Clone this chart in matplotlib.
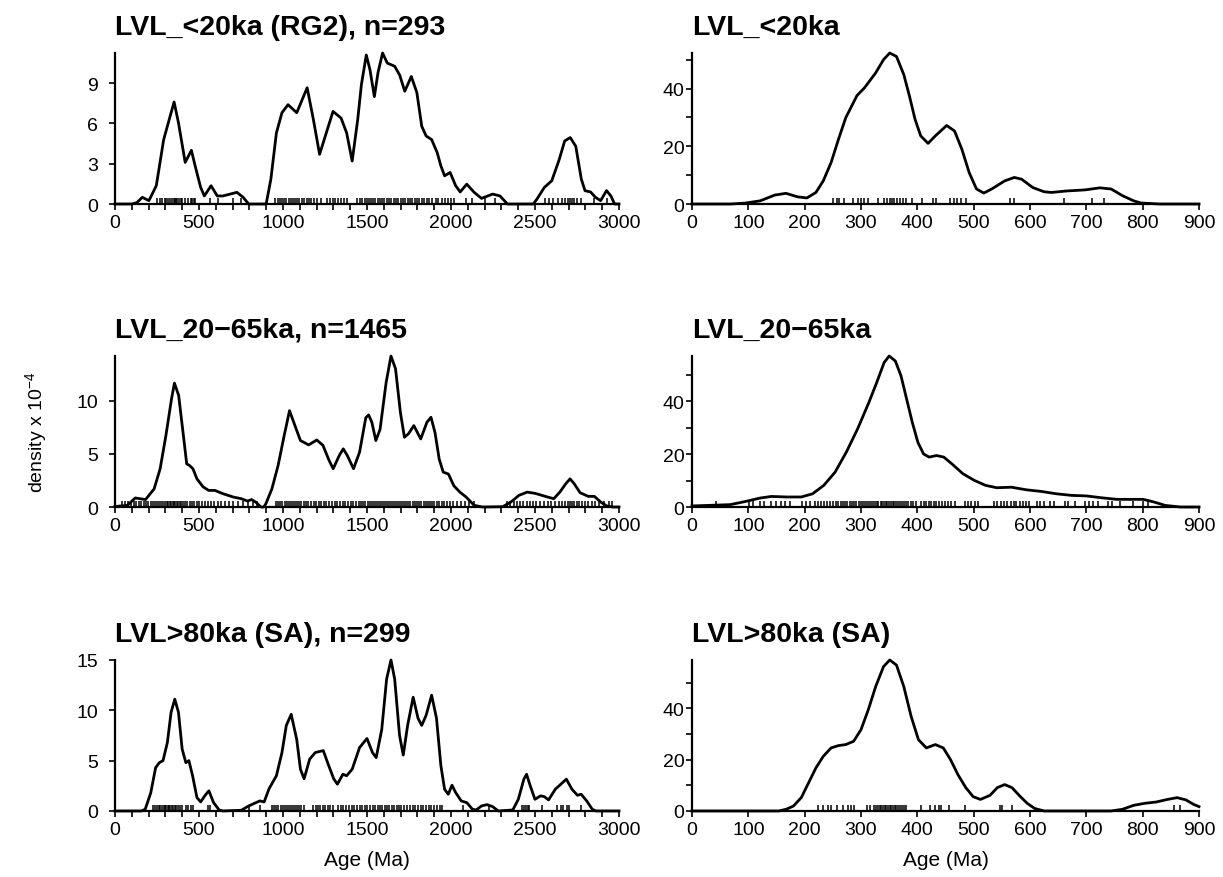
import matplotlib
matplotlib.use("Agg")
import matplotlib.pyplot as plt
from matplotlib.ticker import MultipleLocator

plt.rcParams['font.family'] = ['Liberation Sans', 'DejaVu Sans']
plt.rcParams['mathtext.fontset'] = 'custom'
plt.rcParams['mathtext.rm'] = 'Liberation Sans'

# ---- data (age in Ma, density x 1e-4) ----
# LVL_<20ka (RG2), full range
rg2_age = [0, 100, 130, 163, 202, 246, 290, 312, 352, 378, 418, 455, 477, 510, 532, 572, 609, 642, 726, 763,
           796, 900, 928, 961, 994, 1030, 1082, 1144, 1181, 1218, 1258, 1298, 1346, 1379, 1412, 1445, 1467, 1496, 1518, 1544,
           1566, 1593, 1621, 1665, 1695, 1725, 1764, 1797, 1826, 1852, 1885, 1918, 1940, 1962, 1995, 2028, 2055, 2094, 2138, 2182,
           2248, 2292, 2336, 2490, 2512, 2556, 2600, 2644, 2677, 2710, 2743, 2776, 2798, 2831, 2860, 2891, 2926, 2952, 2974, 3000]
rg2_dens = [0, 0, 0.1, 0.5, 0.25, 1.36, 4.8, 5.8, 7.6, 6.05, 3.1, 4.0, 2.85, 1.24, 0.6, 1.36, 0.6, 0.6, 0.87, 0.5,
            0, 0, 1.85, 5.3, 6.8, 7.4, 6.8, 8.66, 6.3, 3.7, 5.3, 6.9, 6.4, 5.3, 3.2, 6.3, 8.9, 11.1, 10.0, 8.0,
            9.8, 11.25, 10.5, 10.26, 9.6, 8.4, 9.5, 8.3, 5.8, 5.07, 4.8, 3.83, 2.84, 2.1, 2.35, 1.36, 0.9, 1.48, 0.87, 0.42,
            0.74, 0.6, 0, 0, 0.37, 1.24, 1.73, 3.3, 4.7, 4.95, 4.3, 1.85, 0.99, 0.9, 0.5, 0.25, 1.0, 0.6, 0, 0]
rg2_rug = [252, 268, 281, 295, 304, 318, 330, 341, 349, 356, 363, 372, 380, 391, 402, 418, 437, 452, 461, 470, 479,
           565, 616, 704, 752, 955, 968, 982, 996, 1008, 1021, 1035, 1047, 1060, 1072, 1085, 1098, 1112, 1128, 1141,
           1155, 1168, 1182, 1201, 1228, 1262, 1280, 1296, 1312, 1330, 1348, 1365, 1381, 1440, 1458, 1472, 1486, 1499,
           1511, 1524, 1537, 1550, 1563, 1577, 1590, 1603, 1617, 1630, 1644, 1658, 1672, 1686, 1700, 1714, 1728, 1742,
           1756, 1770, 1784, 1799, 1812, 1826, 1840, 1856, 1872, 1890, 1908, 1925, 1944, 1962, 1985, 2003, 2017, 2090,
           2127, 2204, 2260, 2560, 2582, 2610, 2640, 2661, 2680, 2695, 2708, 2720, 2735, 2750, 2772, 2853, 2930]

# LVL_<20ka, young part
y20_age = [0, 68, 94, 121, 147, 167, 187, 204, 220, 233, 247, 260, 273, 293, 306, 326, 340, 351, 363, 376, 386, 396,
           406, 419, 432, 452, 466, 479, 492, 505, 518, 532, 555, 572, 585, 605, 625, 638, 664, 698, 724, 744, 764, 784,
           797, 830, 900]
y20_dens = [0, 0, 0.3, 1.1, 3.1, 3.7, 2.5, 2.1, 4.0, 8.0, 14.4, 22.4, 29.9, 37.6, 40.2, 45.4, 50.0, 52.3, 51.1, 44.8,
            37.4, 29.3, 23.6, 21.0, 23.6, 27.2, 25.3, 19.0, 10.9, 5.2, 3.8, 5.2, 8.0, 9.2, 8.6, 5.7, 4.25, 4.0, 4.5, 4.9,
            5.6, 5.2, 2.9, 1.1, 0.35, 0, 0]
y20_rug = [251, 257, 261, 270, 286, 294, 300, 306, 312, 330, 340, 347, 351, 355, 359, 364, 369, 374, 380, 391, 408,
           427, 433, 458, 465, 470, 478, 486, 564, 571, 661, 710, 731]

# LVL_20-65ka, full range
mid_age = [0, 73, 121, 182, 233, 269, 303, 337, 354, 379, 403, 427, 444, 464, 488, 524, 558, 595, 643, 704,
           752, 789, 813, 837, 869, 886, 898, 934, 971, 1007, 1039, 1068, 1104, 1153, 1201, 1238, 1274, 1299, 1335, 1359,
           1383, 1420, 1456, 1493, 1510, 1529, 1553, 1578, 1614, 1643, 1670, 1699, 1723, 1748, 1779, 1820, 1857, 1881, 1905, 1930,
           1954, 1985, 2017, 2053, 2090, 2138, 2187, 2308, 2357, 2405, 2454, 2502, 2575, 2612, 2648, 2684, 2709, 2733, 2769, 2818,
           2854, 2891, 2927, 2963, 3000]
mid_dens = [0.05, 0.15, 0.85, 0.7, 1.7, 3.6, 6.7, 10.2, 11.65, 10.5, 7.3, 4.06, 3.9, 3.6, 2.65, 1.9, 1.56, 1.56, 1.25, 0.94,
            0.78, 0.56, 0.7, 0.47, 0, 0, 0.3, 1.7, 3.9, 6.7, 9.06, 7.8, 6.25, 5.84, 6.3, 5.8, 4.4, 3.6, 4.84, 5.47,
            4.84, 3.6, 5.16, 8.4, 8.66, 7.97, 6.25, 7.3, 11.7, 14.2, 13.0, 8.9, 6.56, 6.9, 7.66, 6.4, 7.97, 8.44, 7.0, 4.5,
            3.28, 3.1, 2.0, 1.4, 0.94, 0.16, 0, 0.03, 0.47, 1.1, 1.4, 1.28, 0.94, 0.78, 1.4, 2.2, 2.65, 2.2, 1.34, 1.0,
            1.0, 0.47, 0.1, 0, 0]
mid_rug = [42, 58, 75, 96, 112, 128, 141, 157, 170, 186, 199, 214, 226, 240, 252, 263, 275, 286, 297, 308, 318, 327,
           336, 344, 352, 360, 368, 377, 386, 396, 407, 419, 431, 444, 458, 471, 486, 502, 518, 535, 553, 571, 590, 611,
           633, 655, 680, 704, 731, 760, 791, 823, 848,
           958, 972, 985, 997, 1010, 1022, 1034, 1046, 1058, 1070, 1083, 1096, 1110, 1124, 1138, 1152, 1167, 1182, 1197,
           1212, 1227, 1243, 1259, 1275, 1291, 1307, 1323, 1339, 1355, 1371, 1387, 1403, 1419, 1435, 1450, 1464, 1478,
           1491, 1504, 1516, 1528, 1541, 1554, 1567, 1580, 1592, 1604, 1616, 1628, 1639, 1650, 1661, 1672, 1684, 1696,
           1708, 1720, 1733, 1746, 1759, 1772, 1785, 1798, 1811, 1824, 1837, 1850, 1863, 1876, 1889, 1902, 1916, 1930,
           1945, 1961, 1978, 1996, 2015, 2036, 2058, 2082, 2108, 2137,
           2332, 2351, 2373, 2392, 2413, 2431, 2452, 2470, 2489, 2508, 2530, 2552, 2575, 2598, 2620, 2641, 2660, 2678,
           2694, 2708, 2721, 2734, 2748, 2763, 2780, 2798, 2817, 2838, 2860, 2884, 2910, 2938, 2958]

# LVL_20-65ka, young part
m20_age = [0, 68, 95, 121, 141, 168, 194, 214, 234, 254, 274, 294, 314, 328, 341, 350, 361, 371, 381, 391,
           401, 411, 421, 434, 447, 461, 481, 501, 521, 541, 567, 594, 620, 647, 674, 700, 727, 754, 781, 801,
           820, 840, 867, 900]
m20_dens = [0.4, 0.9, 2.1, 3.4, 4.0, 3.8, 3.8, 5.0, 8.2, 13.2, 20.8, 29.6, 39.6, 47.2, 54.7, 57.2, 55.3, 49.7, 40.9, 32.1,
            24.5, 20.1, 18.9, 19.5, 18.9, 16.4, 12.6, 10.1, 8.2, 7.3, 7.5, 6.5, 5.9, 5.0, 4.4, 4.2, 3.5, 2.9, 2.9, 2.9,
            1.9, 0.6, 0, 0]
m20_rug = [43, 101, 108, 121, 128, 141, 150, 158, 166, 174, 196, 203, 210, 218, 223, 229, 234, 240, 245, 250, 255,
           259, 264, 268, 272, 276, 280, 284, 288, 292, 296, 300, 303, 307, 310, 314, 318, 321, 325, 328, 331, 335, 338,
           341, 344, 347, 350, 353, 356, 359, 362, 366, 369, 372, 376, 380, 384, 388, 393, 398, 407, 411, 416, 420, 425,
           430, 434, 439, 444, 449, 454, 460, 467, 485, 490, 496, 502, 508, 536, 542, 548, 553, 560, 566, 571, 576, 582,
           588, 593, 599, 612, 618, 624, 636, 643, 662, 668, 680, 697, 705, 712, 720, 738, 745, 760, 782, 800, 810]

# LVL>80ka (SA), full range
sa_age = [0, 158, 180, 213, 242, 264, 286, 312, 334, 356, 378, 400, 422, 440, 462, 488, 510, 537, 559, 587,
          620, 642, 752, 796, 862, 888, 917, 961, 994, 1020, 1049, 1082, 1104, 1126, 1159, 1192, 1240, 1269, 1302, 1324,
          1357, 1379, 1412, 1456, 1500, 1533, 1555, 1588, 1617, 1643, 1665, 1694, 1716, 1742, 1775, 1804, 1826, 1852, 1885, 1914,
          1940, 1962, 1984, 2006, 2028, 2061, 2094, 2128, 2150, 2182, 2215, 2248, 2282, 2368, 2401, 2434, 2450, 2472, 2500, 2533,
          2555, 2581, 2621, 2654, 2687, 2720, 2753, 2775, 2808, 2841, 2863, 3000]
sa_dens = [0, 0, 0.17, 1.8, 4.3, 4.8, 5.0, 6.8, 9.8, 11.1, 9.8, 6.15, 4.8, 5.0, 3.5, 1.33, 0.9, 1.56, 2.0, 0.83,
           0.1, 0, 0.07, 0.5, 1.0, 0.9, 2.2, 3.5, 5.8, 8.5, 9.6, 7.1, 4.15, 3.2, 5.15, 5.8, 6.0, 4.65, 3.2, 2.66,
           3.65, 3.5, 4.15, 6.3, 7.2, 5.8, 5.3, 8.1, 13.1, 15.0, 13.1, 7.5, 5.55, 8.5, 11.3, 9.2, 8.5, 9.5, 11.5, 9.2,
           4.5, 2.16, 1.66, 2.56, 1.83, 1.0, 0.83, 0.17, 0.1, 0.5, 0.63, 0.43, 0, 0.1, 1.16, 3.16, 3.65, 2.5, 1.16, 1.5,
           1.43, 1.1, 2.16, 2.66, 3.16, 2.16, 1.56, 1.66, 1.0, 0.17, 0, 0]
sa_rug = [226, 240, 252, 262, 271, 280, 290, 298, 306, 314, 322, 330, 338, 346, 355, 364, 375, 388, 402, 420, 436,
          451, 466, 555, 565, 796, 862, 932, 946, 960, 973, 986, 998, 1010, 1022, 1034, 1046, 1058, 1070, 1083, 1096,
          1110, 1126, 1180, 1194, 1208, 1222, 1236, 1251, 1266, 1282, 1300, 1330, 1345, 1360, 1376, 1392, 1408, 1424,
          1440, 1456, 1472, 1488, 1503, 1518, 1533, 1548, 1563, 1578, 1592, 1606, 1620, 1634, 1648, 1662, 1676, 1690,
          1704, 1720, 1740, 1756, 1772, 1788, 1804, 1820, 1836, 1852, 1868, 1884, 1900, 1916, 1932, 1945, 2072, 2226,
          2425, 2436, 2446, 2457, 2467, 2544, 2632, 2655, 2668, 2690, 2700, 2775]

# LVL>80ka (SA), young part
s20_age = [0, 154, 167, 180, 194, 207, 220, 233, 247, 260, 273, 287, 300, 313, 326, 340, 351, 363, 376, 389,
           402, 416, 432, 446, 459, 472, 486, 499, 512, 529, 542, 555, 568, 582, 595, 608, 625, 744, 764, 784,
           804, 824, 844, 861, 877, 890, 900]
s20_dens = [0, 0, 0.65, 1.9, 5.2, 11.0, 16.8, 21.3, 24.6, 25.5, 25.9, 27.2, 31.7, 39.5, 48.5, 56.3, 58.9, 56.9, 48.5, 36.9,
            27.8, 24.6, 25.9, 24.6, 20.0, 14.2, 9.1, 5.6, 4.5, 6.1, 9.1, 10.3, 9.1, 5.8, 3.0, 1.0, 0, 0, 0.65, 2.2,
            3.0, 3.5, 4.5, 5.2, 4.3, 2.6, 1.7]
s20_rug = [223, 233, 241, 247, 257, 268, 277, 283, 288, 310, 316, 323, 327, 330, 333, 336, 339, 342, 345, 348, 351,
           354, 357, 360, 363, 366, 369, 373, 377, 379, 406, 422, 432, 438, 442, 456, 485, 546, 550, 568, 855, 867]

titles = ['LVL_<20ka (RG2), n=293', 'LVL_<20ka',
          'LVL_20\u221265ka, n=1465', 'LVL_20\u221265ka',
          'LVL>80ka (SA), n=299', 'LVL>80ka (SA)']

fig = plt.figure(figsize=(12.23, 8.78), dpi=100)

lefts = [0.094, 0.5658]
widths = [0.4121, 0.4146]
bottoms = [0.7665, 0.4214, 0.0752]
height = 0.172


def draw_panel(ax, x, y, rug, title, full):
    ax.plot(x, y, color='black', lw=2.0, solid_joinstyle='round', clip_on=False)
    ax.vlines(rug, 0, 0.04, transform=ax.get_xaxis_transform(), color='black', lw=1.1)
    ax.set_ylim(0, max(y))
    for s in ['top', 'right']:
        ax.spines[s].set_visible(False)
    for s in ['left', 'bottom']:
        ax.spines[s].set_linewidth(1.6)
    ax.tick_params(which='both', direction='out', width=1.2, labelsize=14)
    ax.tick_params(axis='x', which='both', length=4.5, pad=3)
    if full:
        ax.set_xlim(0, 3000)
        ax.xaxis.set_major_locator(MultipleLocator(500))
        ax.xaxis.set_minor_locator(MultipleLocator(100))
        ax.tick_params(axis='y', length=4, pad=8)
    else:
        ax.set_xlim(0, 900)
        ax.xaxis.set_major_locator(MultipleLocator(100))
        ax.set_yticks([0, 20, 40])
        ax.yaxis.set_minor_locator(MultipleLocator(10))
        ax.tick_params(axis='y', which='both', length=4, pad=1.5)
    ax.set_title(title, loc='left', fontsize=20.5, fontweight='bold', pad=13.7)


panels = [
    (rg2_age, rg2_dens, rg2_rug, [0, 3, 6, 9]),
    (y20_age, y20_dens, y20_rug, None),
    (mid_age, mid_dens, mid_rug, [0, 5, 10]),
    (m20_age, m20_dens, m20_rug, None),
    (sa_age, sa_dens, sa_rug, [0, 5, 10, 15]),
    (s20_age, s20_dens, s20_rug, None),
]

for i, (x, y, rug, yt) in enumerate(panels):
    row, col = divmod(i, 2)
    ax = fig.add_axes([lefts[col], bottoms[row], widths[col], height])
    draw_panel(ax, x, y, rug, titles[i], col == 0)
    if yt is not None:
        ax.set_yticks(yt)
    if row == 2:
        ax.set_xlabel('Age (Ma)', fontsize=15, labelpad=8)

fig.text(0.030, 0.508, r'density x 10$^{-4}$', rotation=90, fontsize=14, va='center', ha='center')

fig.savefig('out.png', dpi=100)
